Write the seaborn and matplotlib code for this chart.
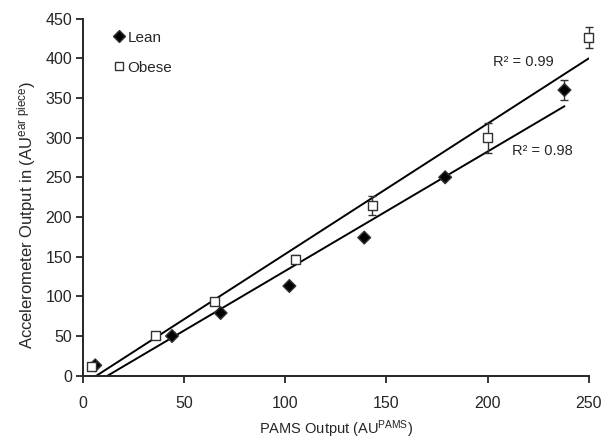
import matplotlib
matplotlib.use("Agg")
import matplotlib.pyplot as plt
import seaborn as sns
import pandas as pd

# Data
lean_x = [6, 44, 68, 102, 139, 179, 238]
lean_y = [13, 50, 79, 113, 174, 250, 360]
lean_err = [0, 0, 0, 0, 0, 0, 12]

obese_x = [4, 36, 65, 105, 143, 200, 250]
obese_y = [12, 51, 93, 147, 214, 300, 426]
obese_err = [2, 2, 3, 5, 12, 19, 13]

r2_labels = {"Obese": "R² = 0.99", "Lean": "R² = 0.98"}

df = pd.concat([
    pd.DataFrame({"x": lean_x, "y": lean_y, "err": lean_err, "group": "Lean"}),
    pd.DataFrame({"x": obese_x, "y": obese_y, "err": obese_err, "group": "Obese"}),
], ignore_index=True)

sns.set_style("ticks")
plt.rcParams["font.family"] = ["Liberation Sans", "DejaVu Sans"]
plt.rcParams["mathtext.default"] = "regular"

fig = plt.figure(figsize=(6.02, 4.43), dpi=100)
ax = fig.add_axes([0.138, 0.152, 0.840, 0.806])

# regression lines
for grp in ["Obese", "Lean"]:
    sub = df[df.group == grp]
    sns.regplot(data=sub, x="x", y="y", ax=ax, scatter=False, ci=None,
                truncate=True, color="black", line_kws={"lw": 1.4})

# error bars
for grp in ["Obese", "Lean"]:
    sub = df[(df.group == grp) & (df.err > 0)]
    ax.errorbar(sub.x, sub.y, yerr=sub.err, fmt="none", ecolor="#333333",
                elinewidth=1.0, capsize=3, capthick=1.0, zorder=3,
                clip_on=False)

sns.scatterplot(data=df, x="x", y="y", hue="group", style="group",
                palette={"Lean": "black", "Obese": "white"},
                markers={"Lean": "D", "Obese": "s"},
                s=42, edgecolor="#333333", linewidth=1.0, ax=ax, zorder=4,
                clip_on=False)

handles, labels = ax.get_legend_handles_labels()
keep = [(h, l) for h, l in zip(handles, labels) if l in ("Lean", "Obese")]
ax.legend([h for h, l in keep], [l for h, l in keep], loc="upper left",
          bbox_to_anchor=(0.035, 1.005), frameon=False, fontsize=11,
          handlelength=0.6, handletextpad=0.25, labelspacing=1.05,
          markerscale=0.9)

ax.text(202.5, 395, r2_labels["Obese"], fontsize=10.5, va="center")
ax.text(212, 283, r2_labels["Lean"], fontsize=10.5, va="center")

ax.set_xlim(0, 250)
ax.set_ylim(0, 450)
ax.set_xticks(range(0, 251, 50))
ax.set_yticks(range(0, 451, 50))
ax.tick_params(axis="x", direction="out", length=5, width=1.3, pad=10,
               labelsize=11.5)
ax.tick_params(axis="y", direction="out", length=5, width=1.3, pad=3,
               labelsize=11.5)
for side in ["left", "bottom"]:
    ax.spines[side].set_linewidth(1.4)
sns.despine(ax=ax)

ax.set_xlabel(r"PAMS Output (AU$^{PAMS}$)", fontsize=10.5, labelpad=5)
ax.set_ylabel(r"Accelerometer Output in (AU$^{ear\ piece}$)", fontsize=12)
ax.yaxis.set_label_coords(-0.09, 0.45)

fig.savefig("out.png", dpi=100)
